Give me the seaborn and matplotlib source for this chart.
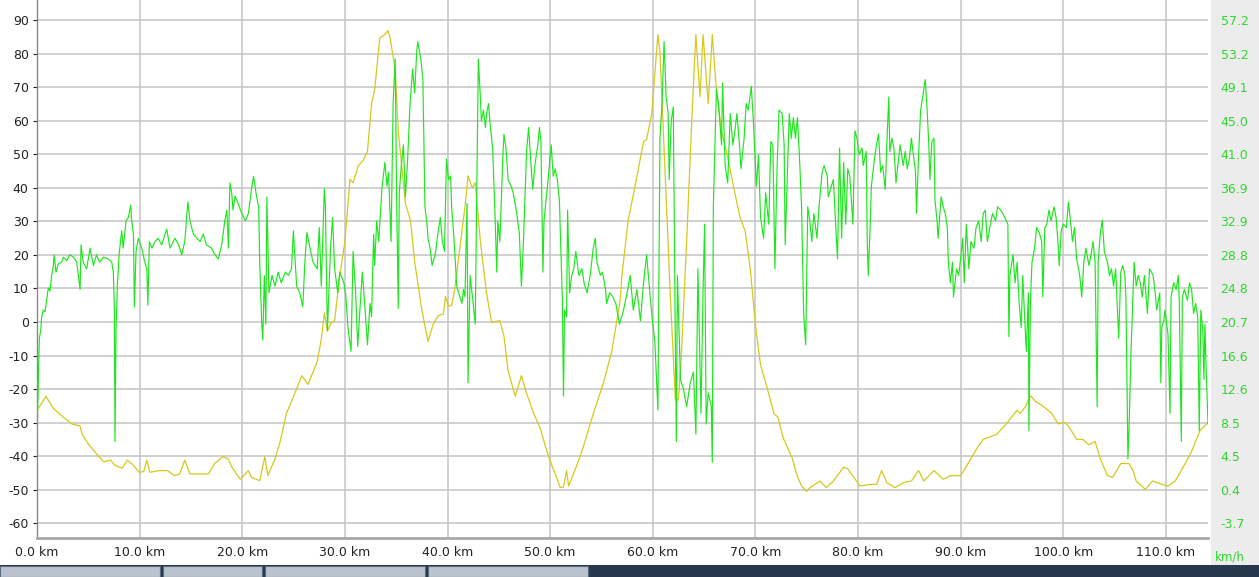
import matplotlib
matplotlib.use("Agg")
import matplotlib.pyplot as plt
import seaborn as sns
import pandas as pd
from matplotlib.patches import Rectangle

# ---------------- data ----------------
elev_km = [0.0, 0.88, 1.6, 2.57, 3.4, 4.2, 4.4, 5.05, 6.05, 6.5, 7.16, 7.6, 8.3, 8.8, 9.4, 9.95,
           10.4, 10.7, 11.0, 11.9, 12.7, 13.4, 13.9, 14.4, 14.9, 15.7, 16.7, 17.3, 18.1, 18.6, 19.0,
           19.8, 20.6, 20.9, 21.7, 22.2, 22.5, 23.2, 23.7, 24.3, 25.0, 25.8, 26.4, 27.3, 27.7, 28.0,
           28.3, 28.7, 29.0, 29.5, 30.0, 30.5, 30.8, 31.3, 31.8, 32.2, 32.6, 32.9, 33.4, 33.9, 34.2,
           34.4, 34.9, 35.2, 35.9, 36.4, 36.8, 37.5, 38.1, 38.6, 39.1, 39.6, 39.8, 40.1, 40.4, 40.7,
           41.2, 41.7, 42.0, 42.4, 42.7, 43.2, 43.8, 44.3, 45.1, 45.5, 45.9, 46.6, 47.2, 47.7, 48.4,
           49.0, 49.8, 50.3, 51.0, 51.3, 51.6, 51.8, 52.6, 53.2, 54.2, 55.2, 56.0, 56.8, 57.0, 57.6,
           58.4, 59.1, 59.4, 59.9, 60.5, 60.7, 61.2, 61.7, 62.2, 62.5, 62.8, 63.3, 63.8, 64.2, 64.6,
           64.9, 65.4, 65.8, 66.2, 66.7, 67.4, 68.0, 68.5, 69.0, 69.5, 70.0, 70.5, 71.1, 71.8, 72.2,
           72.7, 73.6, 74.0, 74.5, 75.0, 75.3, 76.3, 76.9, 77.6, 78.6, 79.0, 80.2, 81.2, 81.8, 82.3,
           82.8, 83.6, 84.4, 85.2, 85.9, 86.4, 87.4, 88.3, 89.0, 90.0, 90.5, 91.6, 92.2, 93.5, 94.3,
           95.5, 95.8, 96.3, 96.8, 97.3, 97.9, 98.9, 99.5, 100.2, 100.7, 101.3, 101.9, 102.5, 103.1,
           103.6, 104.3, 104.8, 105.1, 105.6, 106.4, 106.8, 107.1, 108.0, 108.7, 109.6, 110.2, 110.9,
           111.5, 112.5, 113.3, 114.1]
elev_val = [-26.3, -22.2, -25.8, -28.4, -30.4, -31.0, -33.5, -36.6, -40.2, -41.7, -41.2, -42.7, -43.6,
            -41.2, -42.7, -44.8, -44.6, -41.2, -44.8, -44.3, -44.3, -45.8, -45.3, -41.2, -45.3, -45.3,
            -45.3, -42.2, -40.2, -40.7, -43.3, -46.9, -44.3, -46.3, -47.3, -40.2, -45.8, -40.7, -35.6,
            -27.3, -22.2, -16.0, -18.6, -11.9, -5.2, 2.7, -2.7, -0.1, 0.4, 13.8, 24.0, 42.5, 41.5, 46.6,
            48.2, 50.8, 65.1, 69.2, 84.7, 85.7, 86.9, 84.7, 75.4, 57.0, 35.3, 30.2, 17.9, 3.5, -5.8,
            -0.7, 1.9, 2.4, 7.6, 4.7, 5.0, 9.7, 22.0, 34.3, 43.6, 40.0, 41.5, 24.1, 8.6, -0.1, 0.4,
            -4.2, -14.5, -22.2, -16.0, -21.2, -27.3, -31.4, -39.7, -43.8, -49.4, -49.2, -44.3, -48.9,
            -42.7, -37.6, -27.3, -18.1, -8.8, 6.0, 14.0, 30.2, 42.5, 53.8, 54.4, 62.1, 85.7, 80.5,
            44.6, 8.6, -23.2, -23.2, -8.8, 24.1, 60.1, 85.7, 67.2, 85.7, 65.1, 85.7, 69.2, 56.9, 47.7,
            38.4, 31.2, 27.1, 15.8, -0.7, -12.9, -19.1, -27.3, -28.4, -34.5, -40.7, -45.3, -48.9,
            -50.5, -49.4, -47.4, -49.4, -47.4, -43.3, -43.8, -48.9, -48.4, -48.4, -44.3, -47.9, -49.4,
            -47.9, -47.4, -44.3, -47.4, -44.3, -46.9, -45.8, -45.8, -43.3, -37.6, -35.0, -33.5, -30.9,
            -26.3, -27.3, -25.3, -22.0, -23.7, -24.8, -27.3, -30.4, -29.9, -32.0, -35.0, -35.0, -36.6,
            -35.6, -40.7, -45.8, -46.3, -44.8, -42.2, -42.2, -44.3, -47.4, -49.9, -47.4, -48.4, -48.9,
            -47.4, -44.3, -38.6, -32.5, -29.9]

speed_km = [0.0, 0.13, 0.23, 0.36, 0.45, 0.6, 0.78, 0.94, 1.1, 1.27, 1.43, 1.6, 1.66, 1.85, 2.08, 2.4,
            2.57, 2.9, 3.2, 3.54, 3.87, 4.2, 4.29, 4.5, 4.84, 5.17, 5.5, 5.8, 6.1, 6.47, 6.95, 7.28,
            7.44, 7.54, 7.6, 7.7, 7.83, 8.0, 8.25, 8.4, 8.67, 8.9, 9.13, 9.2, 9.4, 9.49, 9.65, 9.87,
            10.2, 10.5, 10.7, 10.8, 10.95, 11.2, 11.5, 11.8, 12.15, 12.64, 12.96, 13.45, 13.8, 14.1,
            14.4, 14.7, 14.9, 15.24, 15.56, 15.9, 16.2, 16.5, 17.0, 17.35, 17.67, 18.0, 18.3, 18.5,
            18.65, 18.8, 18.97, 19.1, 19.3, 19.6, 19.95, 20.3, 20.6, 20.9, 21.1, 21.4, 21.6, 21.7,
            21.9, 22.0, 22.15, 22.3, 22.4, 22.6, 22.9, 23.2, 23.5, 23.8, 24.2, 24.5, 24.8, 24.98,
            25.3, 25.6, 25.9, 26.1, 26.3, 26.6, 26.9, 27.3, 27.5, 27.7, 28.0, 28.1, 28.3, 28.6, 28.8,
            29.0, 29.3, 29.5, 29.9, 30.1, 30.3, 30.6, 30.8, 31.05, 31.25, 31.5, 31.7, 31.97, 32.2,
            32.45, 32.6, 32.8, 32.9, 33.1, 33.3, 33.6, 33.9, 34.1, 34.25, 34.5, 34.7, 34.9, 35.05,
            35.2, 35.3, 35.5, 35.7, 35.9, 36.1, 36.35, 36.6, 36.8, 37.0, 37.1, 37.4, 37.6, 37.8,
            38.0, 38.1, 38.3, 38.5, 38.8, 39.1, 39.3, 39.5, 39.7, 39.9, 40.1, 40.3, 40.4, 40.6, 40.9,
            41.2, 41.4, 41.55, 41.7, 41.9, 42.0, 42.2, 42.5, 42.7, 42.9, 43.0, 43.2, 43.3, 43.5, 43.7,
            43.8, 44.0, 44.15, 44.4, 44.6, 44.8, 44.9, 45.1, 45.4, 45.5, 45.7, 45.9, 46.2, 46.4,
            46.75, 47.0, 47.2, 47.4, 47.7, 47.9, 48.1, 48.3, 48.55, 48.8, 48.96, 49.1, 49.3, 49.4,
            49.6, 49.8, 50.1, 50.3, 50.5, 50.7, 50.9, 51.2, 51.3, 51.4, 51.6, 51.7, 51.9, 52.1, 52.3,
            52.5, 52.8, 53.1, 53.3, 53.6, 53.9, 54.2, 54.4, 54.55, 54.9, 55.1, 55.4, 55.5, 55.8,
            56.1, 56.4, 56.76, 57.15, 57.5, 57.8, 58.1, 58.45, 58.8, 59.1, 59.4, 59.75, 59.97, 60.2,
            60.5, 60.7, 60.9, 61.1, 61.3, 61.5, 61.6, 61.8, 62.0, 62.2, 62.3, 62.4, 62.7, 63.0, 63.3,
            63.65, 63.96, 64.2, 64.4, 64.7, 64.9, 65.05, 65.2, 65.4, 65.7, 65.8, 65.9, 66.2, 66.4,
            66.7, 66.8, 67.05, 67.3, 67.55, 67.8, 68.0, 68.2, 68.45, 68.6, 68.9, 69.1, 69.3, 69.6,
            69.8, 70.1, 70.3, 70.5, 70.8, 71.0, 71.3, 71.5, 71.7, 71.9, 72.1, 72.3, 72.6, 72.8, 72.9,
            73.1, 73.3, 73.5, 73.7, 73.9, 74.1, 74.3, 74.5, 74.7, 74.9, 75.1, 75.3, 75.5, 75.7, 76.0,
            76.2, 76.5, 76.7, 77.0, 77.1, 77.4, 77.6, 77.8, 78.0, 78.2, 78.4, 78.6, 78.8, 79.0, 79.2,
            79.5, 79.7, 79.9, 80.1, 80.4, 80.5, 80.8, 80.9, 81.0, 81.2, 81.3, 81.6, 81.8, 82.0, 82.2,
            82.4, 82.65, 82.8, 83.0, 83.1, 83.3, 83.5, 83.7, 84.0, 84.1, 84.4, 84.6, 84.8, 85.0, 85.2,
            85.4, 85.6, 85.7, 85.9, 86.1, 86.3, 86.55, 86.7, 86.9, 87.0, 87.2, 87.4, 87.5, 87.7, 87.8,
            88.1, 88.3, 88.5, 88.7, 88.8, 89.0, 89.2, 89.3, 89.6, 89.8, 90.0, 90.2, 90.35, 90.55,
            90.8, 91.0, 91.3, 91.5, 91.75, 92.0, 92.2, 92.4, 92.6, 92.9, 93.1, 93.4, 93.6, 93.9, 94.1,
            94.3, 94.6, 94.7, 94.8, 95.1, 95.3, 95.5, 95.7, 95.9, 96.05, 96.2, 96.4, 96.6, 96.65,
            96.8, 96.95, 97.2, 97.4, 97.7, 97.9, 98.0, 98.2, 98.4, 98.6, 98.8, 99.1, 99.3, 99.5, 99.6,
            99.8, 100.0, 100.3, 100.5, 100.7, 100.9, 101.1, 101.3, 101.6, 101.8, 102.0, 102.2, 102.5,
            102.7, 102.9, 103.1, 103.3, 103.4, 103.6, 103.8, 104.0, 104.3, 104.5, 104.7, 104.9,
            105.1, 105.4, 105.6, 105.8, 106.0, 106.1, 106.3, 106.4, 106.6, 106.9, 107.1, 107.3,
            107.5, 107.7, 107.9, 108.2, 108.4, 108.6, 108.75, 109.0, 109.1, 109.4, 109.5, 109.6,
            109.8, 109.9, 110.2, 110.4, 110.5, 110.75, 111.0, 111.2, 111.3, 111.5, 111.6, 111.8,
            112.1, 112.3, 112.5, 112.7, 112.9, 113.1, 113.25, 113.4, 113.6, 113.7, 113.8, 113.9, 114.1]
speed_kmh = [6.4, 13.7, 18.7, 19.6, 21.2, 22.1, 21.9, 23.3, 24.8, 24.4, 26.3, 27.5, 28.8, 26.7, 27.7, 27.9,
             28.5, 28.1, 28.8, 28.5, 27.9, 24.6, 30.0, 27.9, 27.1, 29.6, 27.5, 28.8, 27.9, 28.5, 28.3, 27.9,
             26.7, 22.1, 6.2, 20.0, 25.0, 28.8, 31.7, 29.6, 32.9, 33.3, 34.8, 33.3, 31.2, 22.5, 29.2, 30.8,
             29.6, 27.9, 27.1, 22.7, 30.4, 29.6, 30.4, 30.8, 30.0, 31.9, 29.6, 30.8, 30.0, 28.8,
             30.4, 35.2, 32.9, 31.3, 30.8, 30.4, 31.3, 30.0, 29.6, 28.8, 28.3, 30.0, 32.9, 34.2,
             29.6, 37.5, 36.3, 34.2, 35.9, 35.0, 33.8, 32.9, 33.8, 36.7, 38.3, 35.8, 34.6, 27.9,
             20.4, 18.5, 26.3, 20.4, 35.8, 24.2, 26.3, 25.0, 26.7, 25.4, 26.7, 26.3, 27.1, 31.7,
             25.0, 24.2, 22.5, 27.9, 31.5, 29.6, 27.9, 27.1, 32.1, 25.0, 36.8, 34.6, 19.6, 29.6, 33.3,
             27.1, 24.2, 26.7, 25.4, 23.7, 20.0, 17.1, 29.2, 24.2, 17.7, 22.9, 26.7, 22.1, 17.9,
             22.9, 21.3, 31.3, 27.5, 32.9, 30.4, 36.7, 40.0, 37.1, 38.8, 30.4, 47.1, 52.5, 35.0,
             22.3, 36.3, 39.6, 42.1, 35.8, 40.0, 47.1, 51.3, 48.4, 53.4, 54.6, 52.5, 50.0, 34.6,
             32.5, 30.8, 29.6, 27.5, 28.8, 31.7, 33.3, 30.4, 29.2, 40.4, 37.9, 38.3, 34.6, 31.3, 25.0,
             23.7, 22.9, 24.6, 23.7, 35.0, 13.3, 26.3, 22.9, 20.4, 42.1, 52.5, 47.9, 45.0, 46.3, 44.2,
             45.9, 47.1, 44.6, 41.7, 34.6, 26.7, 32.9, 30.4, 40.9, 43.4, 41.7, 37.9, 37.1, 36.3,
             33.8, 31.3, 25.0, 30.4, 41.3, 44.2, 40.4, 36.7, 40.0, 42.1, 44.2, 42.5, 26.7, 32.9,
             35.4, 37.9, 42.1, 38.3, 39.2, 37.9, 35.4, 22.9, 11.7, 22.1, 21.3, 34.2, 24.2, 26.3, 27.1,
             29.2, 26.3, 27.1, 25.4, 24.2, 26.3, 29.6, 30.8, 27.9, 26.3, 26.7, 24.6, 22.9, 24.2,
             23.7, 22.9, 20.4, 22.1, 24.2, 26.3, 22.1, 24.6, 20.8, 25.4, 28.8, 23.7, 20.8, 18.3,
             10.0, 42.9, 47.1, 54.6, 47.9, 45.9, 37.9, 45.0, 46.7, 17.9, 6.2, 26.3, 13.7, 12.5, 10.4,
             13.3, 14.6, 7.1, 27.1, 9.6, 24.6, 32.5, 8.3, 12.1, 10.4, 3.7, 34.6, 48.8, 47.1,
             42.1, 49.6, 39.6, 37.5, 45.9, 42.1, 43.8, 45.9, 42.1, 39.2, 42.9, 47.1, 46.3, 49.2,
             45.0, 37.1, 40.9, 33.3, 30.8, 36.3, 32.5, 42.5, 42.1, 27.1, 38.8, 46.3, 45.9, 42.1, 30.0,
             37.9, 45.9, 42.9, 45.4, 42.9, 45.4, 40.4, 34.6, 21.7, 17.9, 34.6, 32.9, 30.4, 33.8, 30.8,
             34.6, 38.8, 39.6, 38.3, 35.8, 37.1, 37.9, 32.9, 28.3, 41.7, 30.8, 40.0, 32.5, 39.2, 38.3,
             32.5, 43.8, 42.9, 40.9, 41.7, 39.6, 41.3, 30.4, 26.3, 32.9, 37.1, 40.4, 42.1, 43.4, 38.8,
             39.6, 36.7, 42.1, 47.9, 41.3, 42.9, 41.7, 37.5, 40.9, 42.1, 39.6, 41.3, 39.2, 40.4, 42.9,
             40.9, 38.8, 33.8, 40.9, 46.3, 47.9, 50.0, 47.1, 42.1, 37.9, 42.5, 42.9, 35.4, 32.9, 30.8,
             35.8, 34.6, 33.8, 32.1, 27.9, 25.4, 27.9, 23.7, 27.1, 26.3, 28.3, 30.8, 25.4, 32.5,
             27.1, 30.4, 29.6, 32.1, 32.9, 30.4, 33.8, 34.2, 30.4, 32.5, 33.8, 32.9, 34.6, 34.2, 33.8,
             33.3, 32.5, 18.9, 26.3, 28.8, 25.4, 27.9, 22.9, 20.0, 26.3, 22.1, 17.1, 24.2, 7.5,
             23.3, 27.9, 29.6, 32.1, 31.3, 30.4, 23.7, 32.1, 32.5, 34.2, 32.9, 34.6, 33.3, 30.0, 27.5,
             31.7, 32.5, 32.1, 35.2, 32.9, 30.4, 32.1, 28.3, 26.3, 23.7, 27.9, 29.6, 27.5,
             28.8, 30.4, 27.9, 10.4, 27.9, 31.3, 33.0, 29.2, 27.9, 26.3, 27.1, 25.0,
             27.1, 18.7, 26.7, 27.5, 26.3, 23.7, 4.1, 7.5, 17.1, 27.9, 25.0, 26.3,
             25.4, 23.7, 26.3, 21.7, 27.1, 26.7, 26.3, 23.7, 22.1, 24.2, 13.3, 20.0,
             20.8, 22.1, 19.2, 9.6, 23.7, 25.4, 24.6, 26.3, 23.3, 6.2, 23.7, 24.6,
             23.3, 25.4, 24.6, 21.7, 22.9, 21.3, 7.5, 22.1, 19.6, 13.7, 20.4, 15.8, 8.3]

x_ticks = [0, 10, 20, 30, 40, 50, 60, 70, 80, 90, 100, 110]
x_labels = ["0.0 km", "10.0 km", "20.0 km", "30.0 km", "40.0 km", "50.0 km", "60.0 km",
            "70.0 km", "80.0 km", "90.0 km", "100.0 km", "110.0 km"]
left_ticks = [-60, -50, -40, -30, -20, -10, 0, 10, 20, 30, 40, 50, 60, 70, 80, 90]
right_labels = ["-3.7", "0.4", "4.5", "8.5", "12.6", "16.6", "20.7", "24.8", "28.8", "32.9",
                "36.9", "41.0", "45.0", "49.1", "53.2", "57.2"]

# ---------------- figure ----------------
sns.set_style("white")
plt.rcParams['font.family'] = ['DejaVu Sans']

W, H = 1259, 577
fig = plt.figure(figsize=(W / 100, H / 100), dpi=100)
fig.patch.set_facecolor('white')

def fx(px):
    return px / W

def fy(py):
    return 1 - py / H

# right grey panel
fig.add_artist(Rectangle((fx(1211), fy(565)), fx(48), 565 / H, transform=fig.transFigure,
                         facecolor='#ececec', edgecolor='none', zorder=0))
# taskbar strip (screenshot)
fig.add_artist(Rectangle((0, 0), 1, 12 / H, transform=fig.transFigure,
                         facecolor='#27384c', edgecolor='none', zorder=0))
for x0, x1 in [(0, 160), (163, 262), (265, 425), (428, 588)]:
    fig.add_artist(Rectangle((fx(x0), 0), fx(x1 - x0), 11 / H, transform=fig.transFigure,
                             facecolor='#b9c2cd', edgecolor='#5b6b7e', lw=0.8, zorder=1))

y_top_l, y_bot_l = 96.0, -64.4
ax = fig.add_axes([fx(37), fy(538), fx(1171), 538 / H])
ax.set_facecolor('none')

elev_df = pd.DataFrame({"km": elev_km, "val": elev_val})
speed_df = pd.DataFrame({"km": speed_km, "kmh": speed_kmh})

sns.lineplot(data=elev_df, x="km", y="val", ax=ax, color='#d6c81c', lw=0.9, zorder=3)

ax.set_xlim(0, 114.1)
ax.set_ylim(y_bot_l, y_top_l)
ax.set_xticks(x_ticks)
ax.set_xticklabels(x_labels)
ax.set_yticks(left_ticks)
ax.set_yticklabels([str(v) for v in left_ticks])
ax.set_xlabel("")
ax.set_ylabel("")
ax.grid(True, color='#c4c4c4', lw=1.1)
ax.set_axisbelow(True)
ax.tick_params(axis='x', colors='#222222', labelsize=9, length=0, pad=6)
ax.tick_params(axis='y', colors='#222222', labelsize=9, length=3, width=0.8, pad=3)
for t in ax.get_yticklines():
    t.set_color('#7fa7cf')
for s in ['top', 'right']:
    ax.spines[s].set_visible(False)
ax.spines['left'].set_color('#888888')
ax.spines['left'].set_linewidth(1.0)
ax.spines['bottom'].set_color('#a8a8a8')
ax.spines['bottom'].set_linewidth(2.0)

# right axis (speed, km/h) aligned to the left grid
slope = (57.2 + 3.7) / 150.0
icpt = 57.2 - 90 * slope
ax2 = ax.twinx()
sns.lineplot(data=speed_df, x="km", y="kmh", ax=ax2, color='#1ee61e', lw=0.85, zorder=4)
ax2.set_ylim(icpt + slope * y_bot_l, icpt + slope * y_top_l)
ax2.set_yticks([icpt + slope * v for v in left_ticks])
ax2.set_yticklabels(right_labels)
ax2.set_ylabel("")
ax2.tick_params(axis='y', colors='#2ed62e', labelsize=9, length=0, pad=9)
for s in ax2.spines.values():
    s.set_visible(False)
ax2.grid(False)

fig.text(fx(1230), fy(557), "km/h", color='#2ed62e', fontsize=8.5, ha='center', va='center')

fig.savefig("out.png", dpi=100, facecolor=fig.get_facecolor())
